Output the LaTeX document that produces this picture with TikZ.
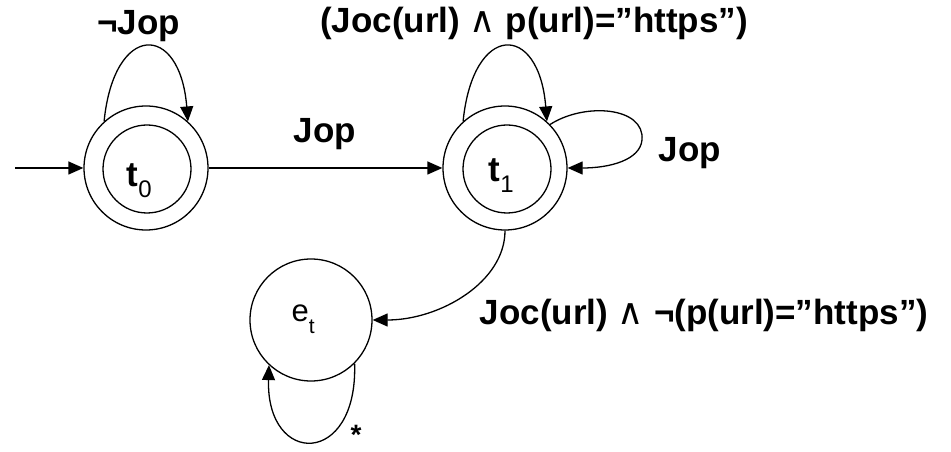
\documentclass[tikz,border=0pt]{standalone}
\usepackage{fontspec}
\setmainfont{Liberation Sans}
\newfontfamily\djv{DejaVu Sans}
\usetikzlibrary{arrows.meta}
\newcommand{\wedgesym}{{\mdseries\djv\fontsize{36}{40}\selectfont ∧}}
\begin{document}
\begin{tikzpicture}[x=1pt,y=1pt, line width=1.3pt,
  stateO/.style={circle,draw,minimum size=124pt,inner sep=0pt},
  stateI/.style={circle,draw,minimum size=88pt,inner sep=0pt},
  lbl/.style={font=\fontsize{35}{42}\selectfont\bfseries, inner sep=0pt, anchor=base},
  sublbl/.style={inner sep=0pt, anchor=base west},
  edge/.style={-{Triangle[length=15pt,width=13pt]}},
]
\useasboundingbox (0,0) rectangle (951,452);
% states
\node[stateO] (t0) at (146,284) {};
\node[stateI] (t0i) at (147,283) {};
\node[stateO] (t1) at (505,284) {};
\node[stateI] (t1i) at (507,283) {};
\node[circle,draw,minimum size=122pt,inner sep=0pt] (et) at (311,132) {};
% state names
\node[sublbl] (t0t) at (126,265) {\fontsize{35}{40}\selectfont\bfseries t\raisebox{-11pt}{\mdseries\fontsize{24}{28}\selectfont 0}};
\node[sublbl] (t1t) at (488,270) {\fontsize{35}{40}\selectfont\bfseries t\raisebox{-11pt}{\mdseries\fontsize{24}{28}\selectfont 1}};
\node[sublbl] (ett) at (291,130) {\fontsize{31}{34}\selectfont e\raisebox{-12pt}{\fontsize{21}{24}\selectfont t}};
% connectors
\coordinate (in) at (15,284);
\draw[edge] (in) -- (t0);
\draw[edge] (t0) -- (t1);
\draw[edge] (t0.132) .. controls (114,430) and (180,430) .. (t0.48);
\draw[edge] (t1.132) .. controls (473,430) and (539,430) .. (t1.48);
\coordinate (rl) at (642,312);
\draw[edge] (t1.44) .. controls (585,350) and (645,345) .. (rl) .. controls (640,292) and (610,284) .. (t1.east);
\draw[edge] (t1.south) .. controls (505,170) and (440,132) .. (et.east);
\draw[edge] (et.-45) .. controls (358,-15) and (266,-15) .. (et.-133);
% labels
\node[lbl] (l1) at (138.5,417) {¬Jop};
\node[lbl] (l2) at (325,309) {Jop};
\node[lbl] (l3) at (534,419) {(Joc(url) \wedgesym{} p(url)=”https”)};
\node[lbl] (l4) at (690,290) {Jop};
\node[lbl] (l5) at (704,127) {Joc(url) \wedgesym{} ¬(p(url)=”https”)};
\node[inner sep=0pt, anchor=base, font=\fontsize{28}{34}\selectfont\bfseries] (star) at (356,7) {*};
\end{tikzpicture}
\end{document}
